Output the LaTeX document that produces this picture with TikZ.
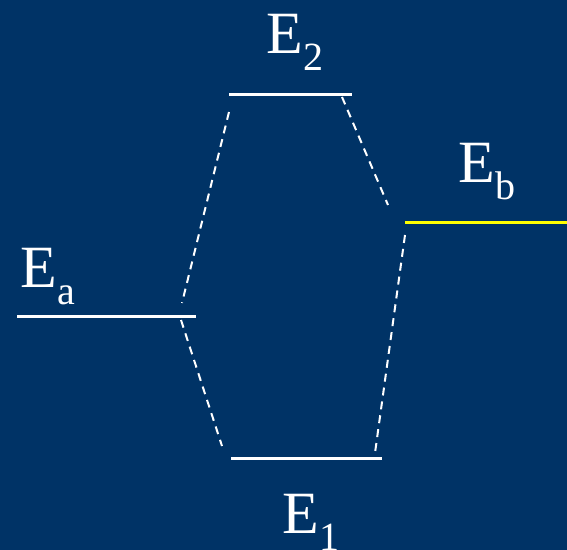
\documentclass[tikz,border=0pt]{standalone}
\usepackage{fontspec}
\setmainfont{Liberation Serif}
\definecolor{slidebg}{HTML}{003366}
\definecolor{levelyellow}{HTML}{FFFF00}
\newcommand{\lvlname}[1]{E\raisebox{-8.5pt}{\fontsize{20pt}{20pt}\selectfont #1}}
\begin{document}
\begin{tikzpicture}[x=0.5pt,y=-0.5pt,
  level/.style={white, line width=1.5pt},
  mix/.style={white, line width=1pt, dash pattern=on 4pt off 3pt},
  lbl/.style={text=white, inner sep=0pt, anchor=base west, font=\fontsize{30pt}{30pt}\selectfont}]
\fill[slidebg] (0,0) rectangle (567,550);
\useasboundingbox (0,0) rectangle (567,550);
\coordinate (a1) at (17,317);
\coordinate (a2) at (196,317);
\coordinate (b1) at (405,223);
\coordinate (b2) at (567,223);
\coordinate (u1) at (229,95);
\coordinate (u2) at (352,95);
\coordinate (d1) at (231,458);
\coordinate (d2) at (382,458);
\draw[level] (a1) -- (a2);
\draw[level, levelyellow] (b1) -- (b2);
\draw[level] (u1) -- (u2);
\draw[level] (d1) -- (d2);
\node[lbl] (la) at (20,288) {\lvlname{a}};
\node[lbl] (lb) at (458,183) {\lvlname{b}};
\node[lbl] (lu) at (266,54) {\lvlname{2}};
\node[lbl] (ld) at (282,533) {\lvlname{1}};
% ends of the dashed correlation lines
\coordinate (ua) at (229,112);
\coordinate (au) at (182,303);
\coordinate (ub) at (342,97);
\coordinate (bu) at (388,205);
\coordinate (ad) at (181,320);
\coordinate (da) at (222,446);
\coordinate (bd) at (405,235);
\coordinate (db) at (375,453);
\draw[mix] (ua) -- (au);
\draw[mix] (ub) -- (bu);
\draw[mix] (ad) -- (da);
\draw[mix] (bd) -- (db);
\end{tikzpicture}
\end{document}
